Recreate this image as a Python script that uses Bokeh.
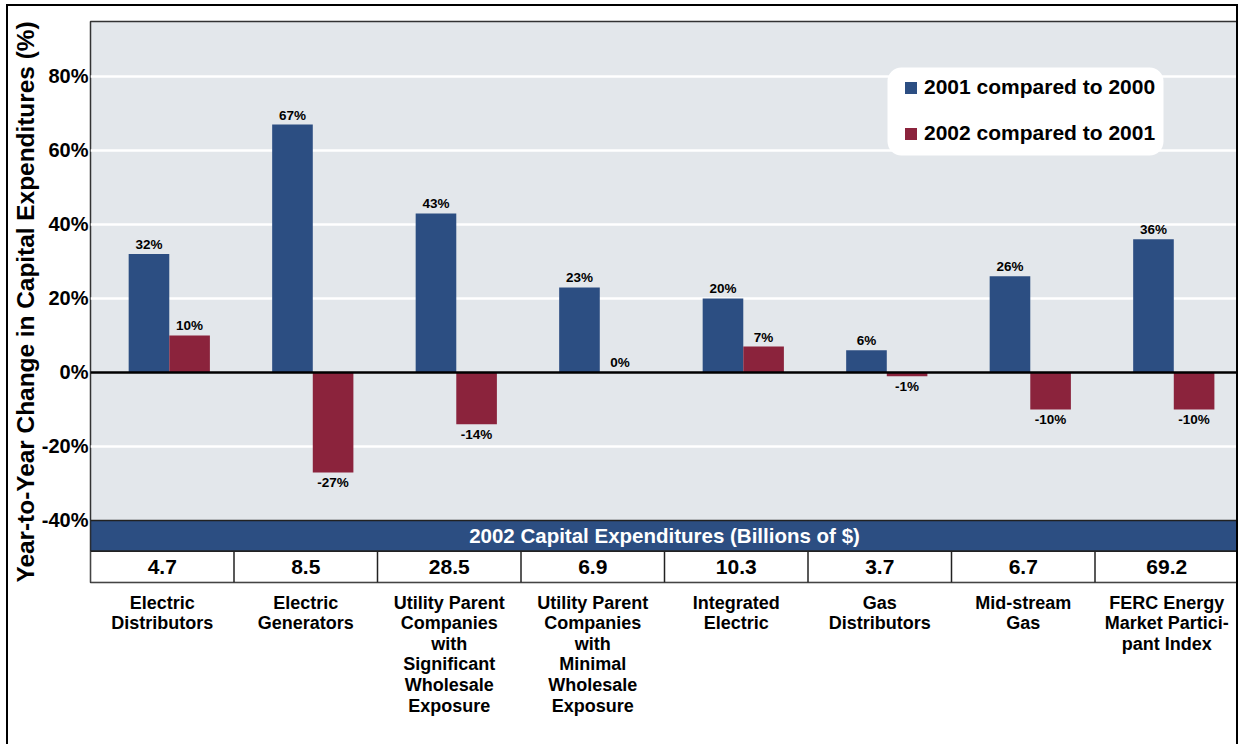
from bokeh.plotting import figure
from bokeh.models import (FixedTicker, PrintfTickFormatter, Span, Legend, LegendItem,
                          ColumnDataSource, Range1d, BoxAnnotation)
from bokeh.core.properties import value
from bokeh.embed import file_html
from bokeh.resources import INLINE

# ---------------- data ----------------
categories = [
    "Electric\nDistributors",
    "Electric\nGenerators",
    "Utility Parent\nCompanies\nwith\nSignificant\nWholesale\nExposure",
    "Utility Parent\nCompanies\nwith\nMinimal\nWholesale\nExposure",
    "Integrated\nElectric",
    "Gas\nDistributors",
    "Mid-stream\nGas",
    "FERC Energy\nMarket Partici-\npant Index",
]
change_2001_vs_2000 = [32, 67, 43, 23, 20, 6, 26, 36]
change_2002_vs_2001 = [10, -27, -14, 0, 7, -1, -10, -10]
capex_2002 = ["4.7", "8.5", "28.5", "6.9", "10.3", "3.7", "6.7", "69.2"]
y_ticks = [-40, -20, 0, 20, 40, 60, 80]
series_names = ["2001 compared to 2000", "2002 compared to 2001"]
band_title = "2002 Capital Expenditures (Billions of $)"
y_title = "Year-to-Year Change in Capital Expenditures (%)"

# ---------------- style ----------------
FONT = "Liberation Sans"
BLUE = "#2C4E82"
RED = "#8B233C"
BG = "#E3E7EB"
Y_TOP, Y_BOT = 94.86, -56.76
BAND_TOP, BAND_BOT = -40, -48.3
BAR_W, SHIFT = 0.283, 0.049

n = len(categories)
centers = [i + 0.5 for i in range(n)]
blue_x = [c + SHIFT - BAR_W / 2 for c in centers]
red_x = [c + SHIFT + BAR_W / 2 for c in centers]

p = figure(width=1232, height=740, x_range=Range1d(0, n), y_range=Range1d(Y_BOT, Y_TOP),
           output_backend="svg", toolbar_location=None,
           min_border_left=82, min_border_top=15, min_border_right=2, min_border_bottom=164)
p.styles = {"margin-left": "6px", "margin-top": "4px",
            "border-left": "2px solid #000", "border-top": "2px solid #000",
            "border-right": "2px solid #000"}
p.background_fill_color = BG
p.border_fill_color = "white"
p.outline_line_color = "#333333"
p.outline_line_width = 1.5

# grid
p.xgrid.visible = False
p.ygrid.ticker = FixedTicker(ticks=[t for t in y_ticks if t not in (0, -40)])
p.ygrid.grid_line_color = "white"
p.ygrid.grid_line_width = 2.5

# y axis
p.yaxis.ticker = FixedTicker(ticks=y_ticks)
p.yaxis.formatter = PrintfTickFormatter(format="%d%%")
p.yaxis.axis_line_color = None
p.yaxis.major_tick_line_color = None
p.yaxis.minor_tick_line_color = None
p.yaxis.major_tick_out = 0
p.yaxis.major_tick_in = 0
p.yaxis.minor_tick_out = 0
p.yaxis.major_label_standoff = 2
p.yaxis.major_label_text_font = FONT
p.yaxis.major_label_text_font_style = "bold"
p.yaxis.major_label_text_font_size = "20px"
p.yaxis.major_label_text_color = "black"
p.yaxis.axis_label = y_title
p.yaxis.axis_label_text_font = FONT
p.yaxis.axis_label_text_font_style = "bold"
p.yaxis.axis_label_text_font_size = "24.4px"
p.yaxis.axis_label_text_color = "black"
p.yaxis.axis_label_standoff = 0

# x axis with category names
p.xaxis.ticker = FixedTicker(ticks=centers)
p.xaxis.major_label_overrides = {c: lab for c, lab in zip(centers, categories)}
p.xaxis.axis_line_color = None
p.xaxis.major_tick_line_color = None
p.xaxis.minor_tick_line_color = None
p.xaxis.major_tick_out = 0
p.xaxis.major_tick_in = 0
p.xaxis.minor_tick_out = 0
p.xaxis.major_label_standoff = 10
p.xaxis.major_label_text_font = FONT
p.xaxis.major_label_text_font_style = "bold"
p.xaxis.major_label_text_font_size = "18px"
p.xaxis.major_label_text_color = "black"
p.xaxis.major_label_text_line_height = 1.03

# zero line
p.add_layout(Span(location=0, dimension="width", line_color="black", line_width=2.5))

# bars
rb = p.vbar(x=blue_x, top=change_2001_vs_2000, bottom=0, width=BAR_W, fill_color=BLUE,
            line_color=None)
rr = p.vbar(x=red_x, top=change_2002_vs_2001, bottom=0, width=BAR_W, fill_color=RED,
            line_color=None)

# bar labels
def lab(v):
    return f"{v}%"

LBL = dict(text_align="center", text_font=value(FONT), text_font_style="bold",
           text_font_size="13.5px", text_color="black")
src_b = ColumnDataSource(dict(x=blue_x, y=change_2001_vs_2000,
                              t=[lab(v) for v in change_2001_vs_2000]))
p.text(x="x", y="y", text="t", source=src_b, text_baseline="bottom", y_offset=-2, **LBL)
pos = [(x, v) for x, v in zip(red_x, change_2002_vs_2001) if v >= 0]
neg = [(x, v) for x, v in zip(red_x, change_2002_vs_2001) if v < 0]
src_rp = ColumnDataSource(dict(x=[a for a, _ in pos], y=[b for _, b in pos],
                               t=[lab(b) for _, b in pos]))
src_rn = ColumnDataSource(dict(x=[a for a, _ in neg], y=[b for _, b in neg],
                               t=[lab(b) for _, b in neg]))
p.text(x="x", y="y", text="t", source=src_rp, text_baseline="bottom", y_offset=-2, **LBL)
p.text(x="x", y="y", text="t", source=src_rn, text_baseline="top", y_offset=3, **LBL)

# band + table
p.quad(left=[0], right=[n], top=[BAND_TOP], bottom=[BAND_BOT], fill_color=BLUE,
       line_color="#222222", line_width=1.5)
p.quad(left=[0], right=[n], top=[BAND_BOT], bottom=[Y_BOT], fill_color="white",
       line_color="#222222", line_width=1.5)
p.segment(x0=list(range(1, n)), x1=list(range(1, n)), y0=[BAND_BOT] * (n - 1),
          y1=[Y_BOT] * (n - 1), line_color="#222222", line_width=1.5)
p.text(x=[n / 2], y=[(BAND_TOP + BAND_BOT) / 2], text=[band_title], text_align="center",
       text_baseline="middle", text_font=value(FONT), text_font_style="bold",
       text_font_size="20.5px", text_color="white")
p.text(x=centers, y=[(BAND_BOT + Y_BOT) / 2] * n, text=capex_2002, text_align="center",
       text_baseline="middle", text_font=value(FONT), text_font_style="bold",
       text_font_size="21px", text_color="black")

# legend background box (rounded, white) + legend
p.add_layout(BoxAnnotation(left=797, right=1073, bottom=427, top=515,
                           left_units="screen", right_units="screen",
                           bottom_units="screen", top_units="screen",
                           fill_color="white", fill_alpha=1, line_color=None,
                           border_radius=14, level="annotation"))
legend = Legend(items=[LegendItem(label=series_names[0], renderers=[rb]),
                       LegendItem(label=series_names[1], renderers=[rr])],
                location=(813, 437), background_fill_alpha=0,
                border_line_color=None, padding=11, spacing=22, glyph_width=15,
                glyph_height=15, label_standoff=6, label_text_font=FONT,
                label_text_font_style="bold", label_text_font_size="21px",
                label_text_color="black", label_height=20, margin=0)
p.add_layout(legend)

open("out.html", "w").write(file_html(p, INLINE))
